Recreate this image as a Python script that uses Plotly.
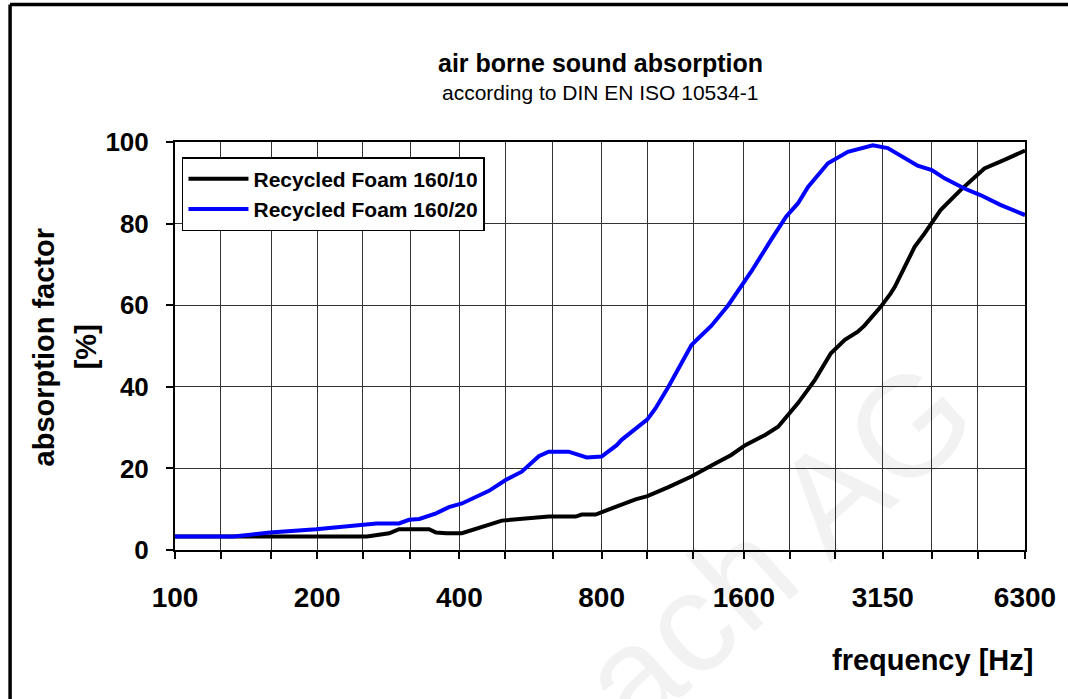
import plotly.graph_objects as go

# ---- data -------------------------------------------------------------
bands = [100, 125, 160, 200, 250, 315, 400, 500, 630, 800, 1000, 1250,
         1600, 2000, 2500, 3150, 4000, 5000, 6300]
tick_labels = ["100", "", "", "200", "", "", "400", "", "", "800", "", "",
               "1600", "", "", "3150", "", "", "6300"]

foam10_freq = [100, 255, 284, 298, 345, 357, 375, 405, 492, 527, 618, 705,
               726, 777, 800, 840, 944, 1000, 1108, 1239, 1392, 1505, 1611,
               1775, 1891, 2054, 2084, 2263, 2446, 2618, 2789, 2880, 3118,
               3274, 3340, 3505, 3679, 3862, 4174, 4600, 5169, 5697, 6300]
foam10_abs = [3.3, 3.3, 4.1, 5.1, 5.1, 4.3, 4.1, 4.1, 7.2, 7.5, 8.2, 8.2,
              8.7, 8.7, 9.2, 10.2, 12.4, 13.2, 15.4, 18.0, 21.2, 23.3, 25.7,
              28.2, 30.2, 35.1, 36.0, 41.7, 48.2, 51.5, 53.5, 55.0, 59.6,
              62.9, 64.5, 69.4, 74.3, 77.6, 83.3, 88.2, 93.5, 95.6, 97.9]

foam20_freq = [100, 133, 146, 159, 199, 249, 267, 298, 313, 329, 357, 380,
               405, 462, 502, 542, 589, 618, 681, 744, 777, 800, 861, 882,
               1000, 1040, 1108, 1239, 1282, 1365, 1483, 1658, 1827, 1966,
               2084, 2188, 2411, 2657, 3000, 3227, 3733, 4000, 4256, 4690,
               5069, 5587, 6300]
foam20_abs = [3.3, 3.3, 3.8, 4.3, 5.1, 6.0, 6.5, 6.5, 7.4, 7.6, 9.0, 10.5,
              11.4, 14.5, 17.2, 19.2, 23.0, 24.1, 24.1, 22.7, 22.7, 22.9,
              25.7, 27.0, 32.0, 34.7, 40.0, 50.2, 51.9, 54.9, 60.0, 68.2,
              76.0, 81.7, 85.0, 89.0, 94.8, 97.6, 99.2, 98.5, 94.2, 93.1,
              91.1, 88.6, 87.0, 84.6, 82.1]

series_names = ["Recycled Foam 160/10", "Recycled Foam 160/20"]
series_colors = ["#000000", "#0000FF"]

# ---- figure -----------------------------------------------------------
FONT = "Arial, 'Liberation Sans', sans-serif"

fig = go.Figure()
fig.add_trace(go.Scatter(x=foam10_freq, y=foam10_abs, mode="lines",
                         name=series_names[0],
                         line=dict(color=series_colors[0], width=4)))
fig.add_trace(go.Scatter(x=foam20_freq, y=foam20_abs, mode="lines",
                         name=series_names[1],
                         line=dict(color=series_colors[1], width=4)))

W, H = 1068, 699
L, R, T, B = 175, 40, 142, 149
pw, ph = W - L - R, H - T - B


def px(xp):
    return (xp - L) / pw


def py(yp):
    return (H - B - yp) / ph


fig.update_layout(
    width=W, height=H,
    margin=dict(l=L, r=R, t=T, b=B, pad=0),
    paper_bgcolor="white", plot_bgcolor="white",
    font=dict(family=FONT, color="black"),
    showlegend=True,
    legend=dict(x=px(182), y=py(157), xanchor="left", yanchor="top",
                bgcolor="white", bordercolor="black", borderwidth=1.5,
                font=dict(family=FONT, size=21, weight="bold"),
                itemwidth=60, tracegroupgap=0),
)

fig.update_xaxes(
    type="log", range=[2, 3.799341], tickvals=bands, ticktext=tick_labels,
    showgrid=True, gridcolor="#333333", gridwidth=1,
    showline=True, linecolor="black", linewidth=2, mirror=True,
    ticks="outside", ticklen=7, tickcolor="black", tickwidth=1.5,
    tickfont=dict(family=FONT, size=28, weight="bold"),
    ticklabelstandoff=14, zeroline=False,
)
fig.update_yaxes(
    range=[0, 100], tickvals=[0, 20, 40, 60, 80, 100],
    showgrid=True, gridcolor="#333333", gridwidth=1,
    showline=True, linecolor="black", linewidth=2, mirror=True,
    ticks="outside", ticklen=7, tickcolor="black", tickwidth=1.5,
    tickfont=dict(family=FONT, size=26, weight="bold"),
    ticklabelstandoff=12, zeroline=False,
)

anns = [
    dict(text="<b>air borne sound absorption</b>", x=0.5, y=py(63),
         font=dict(size=25)),
    dict(text="according to DIN EN ISO 10534-1", x=0.5, y=py(92),
         font=dict(size=21)),
    dict(text="<b>frequency [Hz]</b>", x=px(1038), y=py(660), xanchor="right",
         font=dict(size=29)),
    dict(text="<b>absorption factor</b>", x=px(44), y=py(347), textangle=-90,
         font=dict(size=29)),
    dict(text="<b>[%]</b>", x=px(86), y=py(347), textangle=-90,
         font=dict(size=29)),
]
for a in anns:
    a.setdefault("xanchor", "center")
    a.update(xref="paper", yref="paper", yanchor="middle", showarrow=False)
    a["font"].update(family=FONT, color="black")
    fig.add_annotation(**a)

# faint watermark (runs off the bottom edge, as in the original)
fig.add_annotation(text="ach AG", xref="paper", yref="paper",
                   x=px(778), y=py(545), xanchor="center", yanchor="middle",
                   showarrow=False, textangle=-42,
                   font=dict(family=FONT, size=143, color="rgba(0,0,0,0.05)"))

# outer frame (left and top edges visible)
fig.add_shape(type="line", xref="paper", yref="paper",
              x0=px(9.5), x1=px(1080), y0=py(4.5), y1=py(4.5),
              line=dict(color="black", width=3.5))
fig.add_shape(type="line", xref="paper", yref="paper",
              x0=px(9.5), x1=px(9.5), y0=py(4.5), y1=py(710),
              line=dict(color="black", width=3.5))

fig.write_html("out.html",
               config={"displayModeBar": False},
               post_script="document.body.style.margin='0px';"
                           "document.body.style.overflow='hidden';")
